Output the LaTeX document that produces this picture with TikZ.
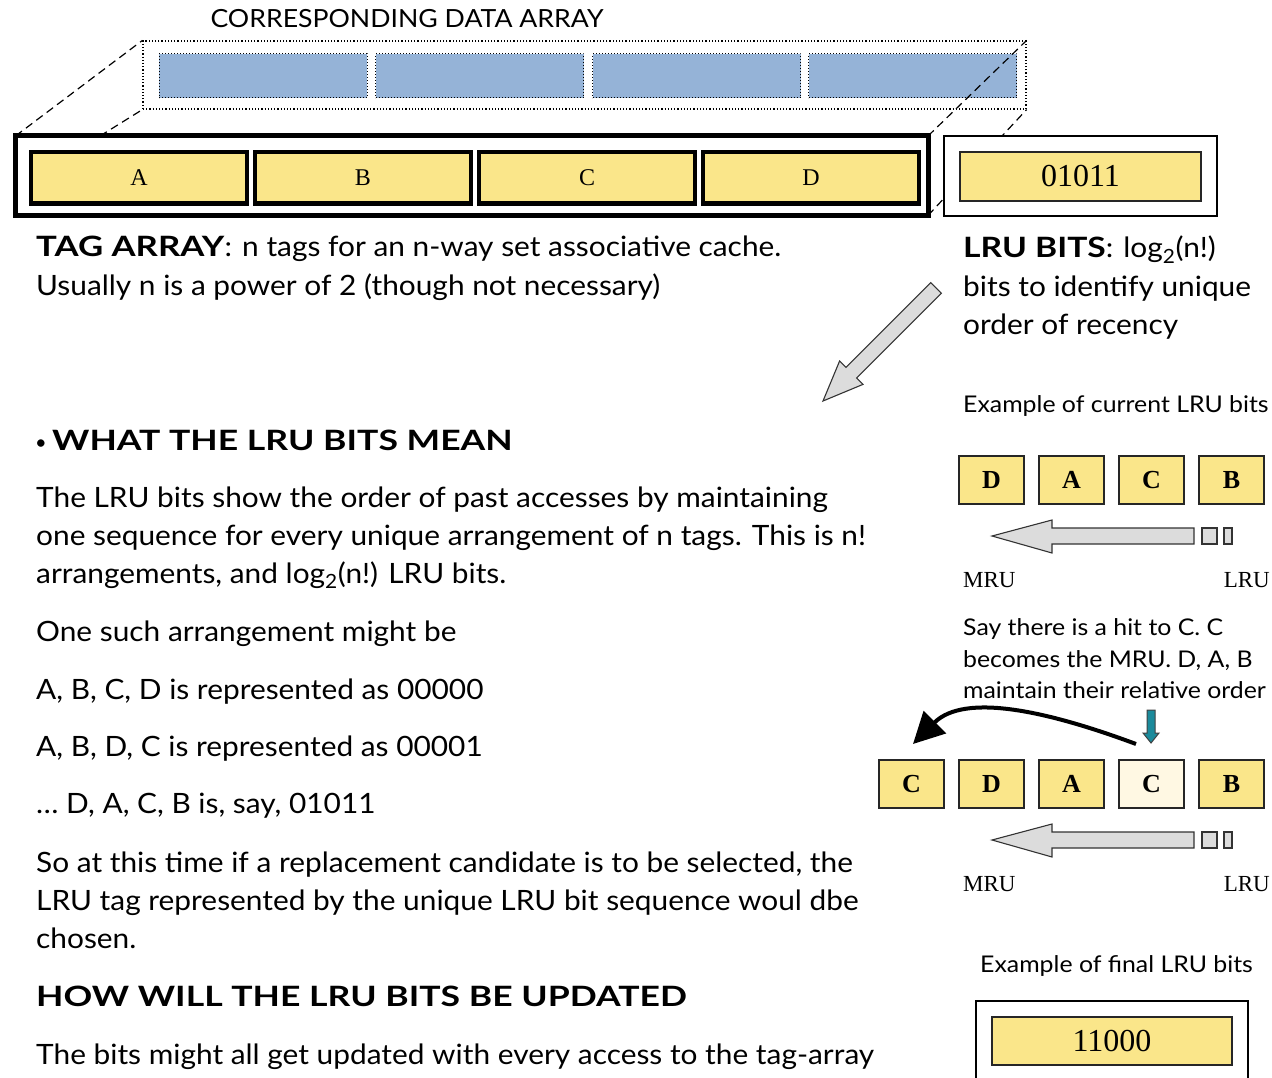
\documentclass[tikz,border=0pt]{standalone}
\usepackage{graphicx}
\usepackage{fontspec}
\setmainfont{Lato}
\newfontfamily\tms{Liberation Serif}
\usetikzlibrary{arrows.meta}

\definecolor{tagyellow}{HTML}{FAE68A}
\definecolor{datablue}{HTML}{95B3D7}
\definecolor{hitcream}{HTML}{FFF8E3}
\definecolor{arrowgray}{HTML}{DCDCDC}
\definecolor{tealfill}{HTML}{1B8A9B}
\newcommand\fsz[1]{\fontsize{#1}{#1}\selectfont}
% widen the sans text a little; bold runs are widened further
\newcommand\wide[1]{\scalebox{1.066}[1]{#1}}
\newcommand\swide[1]{\scalebox{1.08}[1]{#1}}
\newcommand\bd[2][1.18]{\scalebox{#1}[1]{\textbf{#2}}}

\tikzset{
  txt/.style={anchor=base west, inner sep=0pt, font=\fsz{28}},
  smalltxt/.style={anchor=base west, inner sep=0pt, font=\fsz{23}},
  datacell/.style={draw, dotted, line width=1pt, fill=datablue, minimum width=208pt, minimum height=44pt, inner sep=0pt},
  tagcell/.style={draw, line width=4.5pt, fill=tagyellow, minimum width=216pt, minimum height=51.5pt, inner sep=0pt, font=\tms\fsz{24}},
  waycell/.style={draw=black!85, line width=1.4pt, fill=tagyellow, minimum width=65pt, minimum height=48pt, inner sep=0pt, font=\tms\bfseries\fsz{26}},
  bitcell/.style={draw=black!85, line width=1.4pt, fill=tagyellow, inner sep=0pt, font=\tms\fsz{32}},
  blockarrow/.style={draw=black!80, line width=1.1pt, fill=arrowgray, line join=miter},
  persp/.style={line width=1.2pt, dash pattern=on 8pt off 5pt},
  serif/.style={inner sep=0pt, font=\tms\fsz{23}},
}

\begin{document}
\begin{tikzpicture}[x=1pt, y=-1pt]
\clip (0,0) rectangle (1272,1078);
\fill[white] (0,0) rectangle (1272,1078);

% ---------------- data array ----------------
\node[anchor=base, inner sep=0pt, font=\fsz{25}] (title) at (407,28) {\wide{CORRESPONDING DATA ARRAY}};
\node[draw, dotted, line width=1.2pt, minimum width=883pt, minimum height=68pt, inner sep=0pt] (data) at (584.5,75) {};
\node[datacell] (d1) at (263,76) {};
\node[datacell] (d2) at (479.5,76) {};
\node[datacell] (d3) at (696.5,76) {};
\node[datacell] (d4) at (912.5,76) {};

% perspective lines from the tag array back to the data array
\coordinate (tagtop) at (100,136);
\draw[persp] (15.5,136) -- (data.north west);
\draw[persp] (tagtop) -- (data.south west);
\draw[persp] (928,136) -- (data.north east);
\draw[persp] (928,215.5) -- (data.south east);

% ---------------- tag array ----------------
\node[draw, line width=5pt, fill=white, minimum width=912.5pt, minimum height=79.5pt, inner sep=0pt] (tag) at (471.75,175.75) {};
\node[tagcell] (ta) at (139,177.75) {A};
\node[tagcell] (tb) at (363,177.75) {B};
\node[tagcell] (tc) at (587,177.75) {C};
\node[tagcell] (td) at (811,177.75) {D};

% ---------------- LRU bits ----------------
\node[draw, line width=2pt, fill=white, minimum width=273pt, minimum height=80pt, inner sep=0pt] (lru) at (1080.5,176) {};
\node[bitcell, minimum width=241pt, minimum height=49pt] (lrubits) at (1080.5,176.5) {01011};

% ---------------- descriptions ----------------
\node[txt] (tagdesc1) at (36,257) {\bd[1.24]{TAG ARRAY}\wide{: n tags for an n-way set associative cache.}};
\node[txt] (tagdesc2) at (36,295) {\wide{Usually n is a power of 2 (though not necessary)}};
\node[txt] (lrudesc1) at (963,258) {\bd[1.2]{LRU BITS}\wide{: log\textsubscript{2}(n!)}};
\node[txt] (lrudesc2) at (963,296) {\wide{bits to identify unique}};
\node[txt] (lrudesc3) at (963,334) {\wide{order of recency}};

% big diagonal arrow
\draw[blockarrow] (823,401) -- (862.95,384.4) -- (856.6,378.0) -- (941.4,293.2)
  -- (930.8,282.6) -- (846.0,367.4) -- (839.6,361) -- cycle;

% ---------------- left column ----------------
\node[anchor=base west, inner sep=0pt, font=\fsz{20}] (bullet) at (35,449) {•};
\node[txt] (head1) at (52,450) {\bd[1.27]{WHAT THE LRU BITS MEAN}};
\node[txt] (p1) at (36,507) {\wide{The LRU bits show the order of past accesses by maintaining}};
\node[txt] (p2) at (36,545) {\wide{one sequence for every unique arrangement of n tags. This is n!}};
\node[txt] (p3) at (36,583) {\wide{arrangements, and log\textsubscript{2}(n!) LRU bits.}};
\node[txt] (p4) at (36,641) {\wide{One such arrangement might be}};
\node[txt] (p5) at (36,699) {\wide{A, B, C, D is represented as 00000}};
\node[txt] (p6) at (36,756) {\wide{A, B, D, C is represented as 00001}};
\node[txt] (p7) at (36,813) {\wide{\dots{} D, A, C, B is, say, 01011}};
\node[txt] (p8) at (36,872) {\wide{So at this time if a replacement candidate is to be selected, the}};
\node[txt] (p9) at (36,910) {\wide{LRU tag represented by the unique LRU bit sequence woul dbe}};
\node[txt] (p10) at (36,948) {\wide{chosen.}};
\node[txt] (head2) at (36,1006) {\bd[1.27]{HOW WILL THE LRU BITS BE UPDATED}};
\node[txt] (p11) at (36,1064) {\wide{The bits might all get updated with every access to the tag-array}};

% ---------------- current LRU order ----------------
\node[smalltxt] (ex1) at (963,412) {\swide{Example of current LRU bits}};
\node[waycell] (w1) at (991.5,480) {D};
\node[waycell] (w2) at (1071.5,480) {A};
\node[waycell] (w3) at (1151.5,480) {C};
\node[waycell] (w4) at (1231.5,480) {B};
\draw[blockarrow] (992,536) -- (1052,520) -- (1052,528) -- (1194,528) -- (1194,544) -- (1052,544) -- (1052,553) -- cycle;
\draw[blockarrow] (1202,528) rectangle (1217,544);
\draw[blockarrow] (1224,528) rectangle (1232,544);
\node[serif, anchor=base west] (mru1) at (963,587) {MRU};
\node[serif, anchor=base east] (lru1) at (1270,587) {LRU};

% ---------------- after a hit to C ----------------
\node[smalltxt] (hit1) at (963,635) {\swide{Say there is a hit to C. C}};
\node[smalltxt] (hit2) at (963,667) {\swide{becomes the MRU. D, A, B}};
\node[smalltxt] (hit3) at (963,698) {\swide{maintain their relative order}};

\node[waycell] (v0) at (911.5,784) {C};
\node[waycell] (v1) at (991.5,784) {D};
\node[waycell] (v2) at (1071.5,784) {A};
\node[waycell, fill=hitcream] (v3) at (1151.5,784) {C};
\node[waycell] (v4) at (1231.5,784) {B};

\coordinate (movefrom) at (1136,744);
\coordinate (moveto) at (913,744);
\draw[line width=4pt, -{Triangle[length=31pt, width=31pt]}]
  (movefrom) .. controls (1050,712) and (965,692) .. (moveto);

% teal hit marker
\draw[draw=black!75, line width=1pt, fill=tealfill] (1147,710) -- (1155,710) -- (1155,733) -- (1159,733)
  -- (1151,743) -- (1143,733) -- (1147,733) -- cycle;

\draw[blockarrow] (992,840) -- (1052,824) -- (1052,832) -- (1194,832) -- (1194,848) -- (1052,848) -- (1052,857) -- cycle;
\draw[blockarrow] (1202,832) rectangle (1217,848);
\draw[blockarrow] (1224,832) rectangle (1232,848);
\node[serif, anchor=base west] (mru2) at (963,891) {MRU};
\node[serif, anchor=base east] (lru2) at (1270,891) {LRU};

% ---------------- final LRU bits ----------------
\node[smalltxt] (ex2) at (980,972) {\swide{Example of final LRU bits}};
\node[draw, line width=2pt, fill=white, minimum width=272pt, minimum height=94pt, inner sep=0pt] (final) at (1112,1048) {};
\node[bitcell, minimum width=240pt, minimum height=48pt] (finalbits) at (1112,1041) {11000};
\end{tikzpicture}
\end{document}
